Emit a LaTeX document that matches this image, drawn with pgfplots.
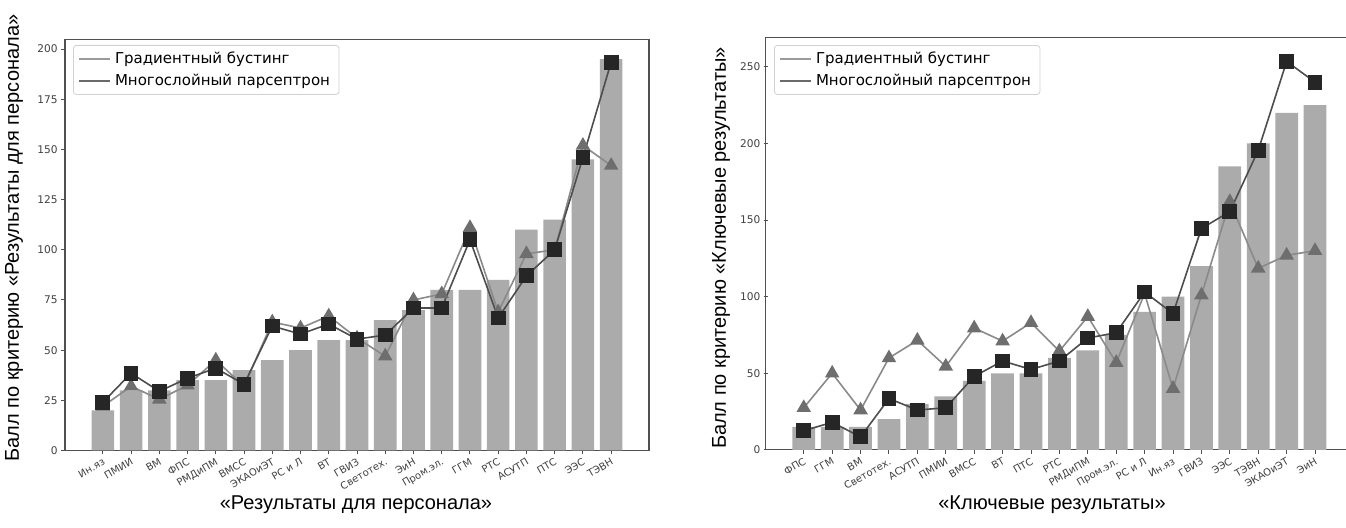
\documentclass[border=0pt]{standalone}
\usepackage{pgfplots}
\pgfplotsset{compat=1.18}
\usepackage{fontspec}
\setmainfont{Liberation Sans}
\newfontfamily\dejavu{DejaVu Sans}
\definecolor{barc}{HTML}{ABABAB}
\definecolor{gbline}{HTML}{8A8A8A}
\definecolor{gbmark}{HTML}{6E6E6E}
\definecolor{mlpline}{HTML}{4D4D4D}
\definecolor{mlpmark}{HTML}{262626}
\definecolor{spine}{HTML}{505050}
\definecolor{leggb}{HTML}{9A9A9A}
\definecolor{legmlp}{HTML}{6A6A6A}

\pgfplotsset{mystyle/.style={
  scale only axis,
  axis line style={spine, line width=0.6pt},
  tick style={spine, line width=0.5pt},
  tick align=outside,
  major tick length=2pt,
  xtick pos=bottom, ytick pos=left,
  xtick={0,...,18},
  /pgf/number format/assume math mode=true,
  xticklabel style={font=\dejavu\fontsize{5}{6}\selectfont, rotate=30, anchor=north east, inner sep=1pt, text=black!75},
  yticklabel style={font=\dejavu\fontsize{5.3}{6}\selectfont, inner sep=1.5pt, text=black!75},
  legend image code/.code={\draw[##1] (0pt,0pt) -- (15.5pt,0pt);},
  legend cell align=left,
  legend style={font=\dejavu\fontsize{7.5}{9}\selectfont, draw=black!18, rounded corners=1.5pt,
    inner xsep=2.5pt, inner ysep=1pt, row sep=0pt, anchor=north west},
}}

\begin{document}
\begin{tikzpicture}
\path[use as bounding box] (0,0) rectangle (673pt,264pt);

\begin{axis}[mystyle,
  at={(32.5pt,38.75pt)}, anchor=south west,
  width=292pt, height=205.5pt,
  xmin=-1.34, xmax=19.34, ymin=0, ymax=204.8,
  ytick={0,25,...,200},
  xticklabels={Ин.яз,ПМИИ,ВМ,ФПС,РМДиПМ,ВМСС,ЭКАОиЭТ,РС и Л,ВТ,ГВИЗ,Светотех.,ЭиН,Пром.эл.,ГГМ,РТС,АСУТП,ПТС,ЭЭС,ТЭВН},
  legend style={at={(0.0137,0.9866)}},
]
\addlegendimage{leggb, line width=0.8pt}
\addlegendentry{Градиентный бустинг}
\addlegendimage{legmlp, line width=0.8pt}
\addlegendentry{Многослойный парсептрон}
\addplot[ybar, bar width=0.8, fill=barc, draw=none, forget plot] coordinates {
(0,20)(1,30)(2,30)(3,35)(4,35)(5,40)(6,45)(7,50)(8,55)(9,55)(10,65)(11,70)(12,80)(13,80)(14,85)(15,110)(16,115)(17,145)(18,195)};
\addplot[gbline, line width=0.8pt, mark=triangle*, mark size=3.4pt, mark options={fill=gbmark, draw=gbmark}, forget plot] coordinates {
(0,22)(1,32)(2,25.5)(3,32.5)(4,45)(5,32)(6,64)(7,61)(8,67)(9,56)(10,47)(11,75)(12,78)(13,111)(14,69)(15,98)(16,100)(17,152)(18,142)};
\addplot[mlpline, line width=0.8pt, mark=square*, mark size=3.3pt, mark options={fill=mlpmark, draw=mlpmark}, forget plot] coordinates {
(0,24)(1,38.5)(2,29.5)(3,36)(4,41)(5,33)(6,62)(7,58)(8,63)(9,55.5)(10,57.5)(11,71)(12,71)(13,105)(14,66)(15,87)(16,100)(17,146)(18,193.5)};
\end{axis}

\begin{axis}[mystyle,
  at={(382.85pt,39.05pt)}, anchor=south west,
  width=290.15pt, height=206.3pt,
  xmin=-1.34, xmax=19.09, ymin=0, ymax=269.3,
  axis x line=box, axis y line=left,
  axis line style={-},
  ytick={0,50,...,250},
  xticklabels={ФПС,ГГМ,ВМ,Светотех.,АСУТП,ПМИИ,ВМСС,ВТ,ПТС,РТС,РМДиПМ,Пром.эл.,РС и Л,Ин.яз,ГВИЗ,ЭЭС,ТЭВН,ЭКАОиЭТ,ЭиН},
  legend style={at={(0.0143,0.9813)}},
]
\addlegendimage{leggb, line width=0.8pt}
\addlegendentry{Градиентный бустинг}
\addlegendimage{legmlp, line width=0.8pt}
\addlegendentry{Многослойный парсептрон}
\addplot[ybar, bar width=0.8, fill=barc, draw=none, forget plot] coordinates {
(0,15)(1,15)(2,15)(3,20)(4,30)(5,35)(6,45)(7,50)(8,50)(9,60)(10,65)(11,75)(12,90)(13,100)(14,120)(15,185)(16,200)(17,220)(18,225)};
\addplot[gbline, line width=0.8pt, mark=triangle*, mark size=3.4pt, mark options={fill=gbmark, draw=gbmark}, forget plot] coordinates {
(0,27.5)(1,50)(2,26)(3,60)(4,71.5)(5,54.5)(6,79.5)(7,71)(8,83)(9,64.5)(10,87)(11,57)(12,102)(13,40)(14,101)(15,162)(16,118.5)(17,127)(18,130)};
\addplot[mlpline, line width=0.8pt, mark=square*, mark size=3.3pt, mark options={fill=mlpmark, draw=mlpmark}, forget plot] coordinates {
(0,12.5)(1,18)(2,8.5)(3,33.5)(4,26)(5,27.5)(6,48)(7,58)(8,52.5)(9,58)(10,73)(11,76.5)(12,103)(13,89)(14,144.5)(15,155.5)(16,195.5)(17,253.5)(18,240)};
\end{axis}

\node[rotate=90, font=\fontsize{10}{12}\selectfont, inner sep=0pt] at (7pt,145pt) {Балл по критерию «Результаты для персонала»};
\node[rotate=90, font=\fontsize{10}{12}\selectfont, inner sep=0pt] at (360.5pt,140pt) {Балл по критерию «Ключевые результаты»};
\node[font=\fontsize{10}{12}\selectfont, inner sep=0pt] at (178pt,11.5pt) {«Результаты для персонала»};
\node[font=\fontsize{10}{12}\selectfont, inner sep=0pt] at (526pt,11.5pt) {«Ключевые результаты»};
\end{tikzpicture}
\end{document}
